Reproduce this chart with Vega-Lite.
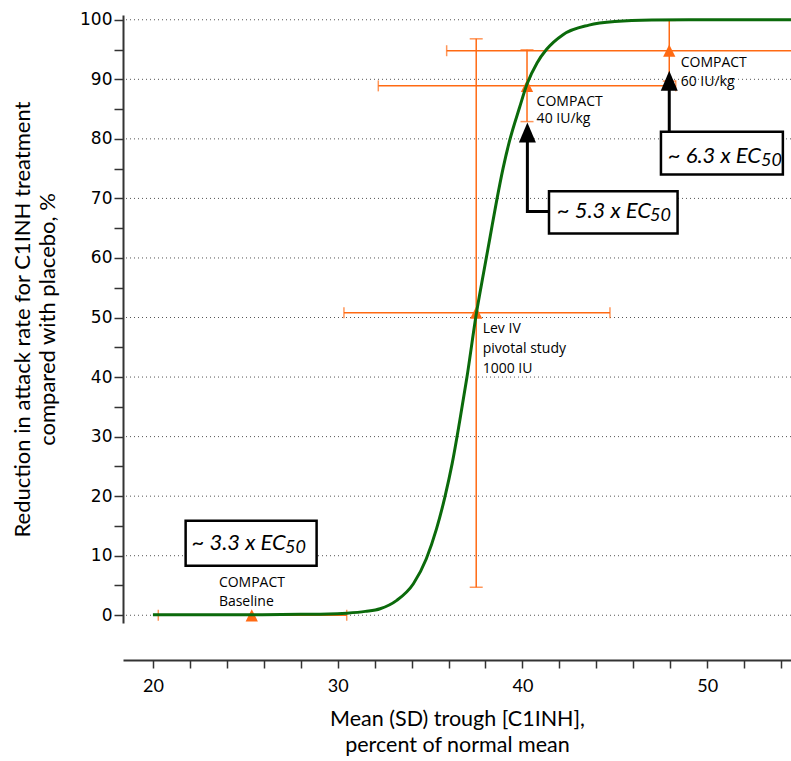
{
  "$schema": "https://vega.github.io/schema/vega-lite/v6.json",
  "width": 668,
  "height": 608,
  "autosize": {"type": "none"},
  "padding": {"left": 123, "top": 15, "right": 0, "bottom": 138},
  "background": "white",
  "config": {"view": {"stroke": null}},
  "datasets": {
    "grid": [{"g": 0}, {"g": 10}, {"g": 20}, {"g": 30}, {"g": 40}, {"g": 50}, {"g": 60}, {"g": 70}, {"g": 80}, {"g": 90}, {"g": 100}],
    "pts": [
      {"study": "COMPACT Baseline", "x": 25.35, "y": 0, "xlo": 20.29, "xhi": 30.49},
      {"study": "Lev IV", "x": 37.5, "y": 50.8, "xlo": 30.34, "xhi": 44.74, "ylo": 4.7, "yhi": 96.8},
      {"study": "COMPACT 40", "x": 40.25, "y": 88.9, "xlo": 32.2, "xhi": 48.3, "ylo": 82.9, "yhi": 94.95},
      {"study": "COMPACT 60", "x": 47.95, "y": 94.8, "xlo": 35.9, "xhi": 60.0, "ylo": 89.7, "yhi": 99.9}
    ],
    "curve": [
      {"x": 20.0, "y": 0.1}, {"x": 25.0, "y": 0.1}, {"x": 28.0, "y": 0.15}, {"x": 29.5, "y": 0.2},
      {"x": 30.5, "y": 0.35}, {"x": 31.5, "y": 0.65}, {"x": 32.3, "y": 1.1}, {"x": 33.2, "y": 2.5},
      {"x": 34.1, "y": 5.3}, {"x": 34.8, "y": 9.5}, {"x": 35.35, "y": 14.5}, {"x": 35.8, "y": 19.8},
      {"x": 36.2, "y": 25.5}, {"x": 36.6, "y": 32.5}, {"x": 37.0, "y": 40.0}, {"x": 37.5, "y": 50.5},
      {"x": 37.9, "y": 57.5}, {"x": 38.25, "y": 63.5}, {"x": 38.6, "y": 69.5}, {"x": 38.95, "y": 75.0},
      {"x": 39.3, "y": 79.6}, {"x": 39.85, "y": 85.3}, {"x": 40.25, "y": 89.2}, {"x": 40.8, "y": 92.8},
      {"x": 41.3, "y": 95.0}, {"x": 42.2, "y": 97.5}, {"x": 43.6, "y": 99.1}, {"x": 45.0, "y": 99.7},
      {"x": 47.0, "y": 99.95}, {"x": 50.0, "y": 100}, {"x": 54.6, "y": 100}
    ],
    "arrows": [
      {"a": 1, "o": 1, "x": 40.27, "y": 79.5}, {"a": 1, "o": 2, "x": 40.27, "y": 67.8}, {"a": 1, "o": 3, "x": 41.5, "y": 67.8},
      {"a": 2, "o": 1, "x": 47.95, "y": 88.2}, {"a": 2, "o": 2, "x": 47.95, "y": 81.2}
    ],
    "heads": [{"x": 40.27, "y": 81.06}, {"x": 47.95, "y": 89.75}],
    "boxes": [
      {"t": "~ 5.3 x EC", "s": "50", "x1": 41.44, "x2": 48.4, "y1": 71.2, "y2": 64.1, "tx": 41.86, "ty": 66.7, "sx": 46.91, "sy": 66.2},
      {"t": "~ 6.3 x EC", "s": "50", "x1": 47.5, "x2": 54.1, "y1": 81.2, "y2": 74.0, "tx": 47.87, "ty": 75.9, "sx": 52.92, "sy": 75.4},
      {"t": "~ 3.3 x EC", "s": "50", "x1": 21.77, "x2": 28.86, "y1": 15.85, "y2": 8.3, "tx": 22.09, "ty": 10.92, "sx": 27.15, "sy": 10.4}
    ],
    "labels": [
      {"x": 23.57, "y": 5.43, "t": "COMPACT"}, {"x": 23.57, "y": 2.24, "t": "Baseline"},
      {"x": 37.85, "y": 48.07, "t": "Lev IV"}, {"x": 37.85, "y": 44.71, "t": "pivotal study"}, {"x": 37.85, "y": 41.34, "t": "1000 IU"},
      {"x": 40.77, "y": 86.2, "t": "COMPACT"}, {"x": 40.77, "y": 83.3, "t": "40 IU/kg"},
      {"x": 48.57, "y": 92.7, "t": "COMPACT"}, {"x": 48.57, "y": 89.6, "t": "60 IU/kg"}
    ]
  },
  "encoding": {
    "x": {"type": "quantitative", "scale": {"domain": [18.38, 54.54], "nice": false, "zero": false},
      "axis": {
        "orient": "bottom", "offset": 37, "values": [20, 22, 24, 26, 28, 30, 32, 34, 36, 38, 40, 42, 44, 46, 48, 50, 52, 54],
        "labelExpr": "datum.value % 10 === 0 ? datum.label : ''", "labelOverlap": false, "grid": false,
        "domainColor": "#333333", "domainWidth": 2, "tickColor": "#333333", "tickWidth": 1.5, "tickSize": 8,
        "labelFont": "Lato", "labelFontSize": 18, "labelColor": "black", "labelPadding": 9,
        "title": ["Mean (SD) trough [C1INH],", "percent of normal mean"],
        "titleFont": "Lato", "titleFontSize": 21.5, "titleFontWeight": "normal", "titleColor": "black",
        "titlePadding": 13, "titleLineHeight": 26
      }
    },
    "y": {"type": "quantitative", "scale": {"domain": [-1.3, 100.8], "nice": false, "zero": false},
      "axis": {
        "orient": "left", "values": [0, 5, 10, 15, 20, 25, 30, 35, 40, 45, 50, 55, 60, 65, 70, 75, 80, 85, 90, 95, 100],
        "labelExpr": "datum.value % 10 === 0 ? datum.label : ''", "labelOverlap": false, "grid": false,
        "domainColor": "#333333", "domainWidth": 2, "tickColor": "#333333", "tickWidth": 1.5, "tickSize": 9,
        "labelFont": "DejaVu Sans", "labelFontSize": 17, "labelColor": "black", "labelPadding": 2,
        "title": ["Reduction in attack rate for C1INH treatment", "compared with placebo, %"],
        "titleFont": "Lato", "titleFontSize": 22, "titleFontWeight": "normal", "titleColor": "black",
        "titlePadding": 20, "titleLineHeight": 25
      }
    }
  },
  "layer": [
    {
      "data": {"name": "grid"},
      "mark": {"type": "rule", "color": "#555555", "strokeWidth": 1, "strokeDash": [1, 3]},
      "encoding": {"y": {"field": "g"}}
    },
    {
      "data": {"name": "pts"},
      "mark": {"type": "rule", "color": "#FF6A13", "strokeWidth": 1.5},
      "encoding": {"x": {"field": "xlo"}, "x2": {"field": "xhi"}, "y": {"field": "y"}}
    },
    {
      "data": {"name": "pts"},
      "mark": {"type": "rule", "color": "#FF6A13", "strokeWidth": 1.5},
      "encoding": {"x": {"field": "x"}, "y": {"field": "ylo"}, "y2": {"field": "yhi"}}
    },
    {
      "data": {"name": "pts"},
      "mark": {"type": "tick", "orient": "vertical", "color": "#FF6A13", "size": 11, "thickness": 1.5},
      "encoding": {"x": {"field": "xlo"}, "y": {"field": "y"}}
    },
    {
      "data": {"name": "pts"},
      "mark": {"type": "tick", "orient": "vertical", "color": "#FF6A13", "size": 11, "thickness": 1.5},
      "encoding": {"x": {"field": "xhi"}, "y": {"field": "y"}}
    },
    {
      "data": {"name": "pts"},
      "mark": {"type": "tick", "orient": "horizontal", "color": "#FF6A13", "size": 13, "thickness": 1.5},
      "encoding": {"x": {"field": "x"}, "y": {"field": "ylo"}}
    },
    {
      "data": {"name": "pts"},
      "mark": {"type": "tick", "orient": "horizontal", "color": "#FF6A13", "size": 13, "thickness": 1.5},
      "encoding": {"x": {"field": "x"}, "y": {"field": "yhi"}}
    },
    {
      "data": {"name": "pts"},
      "mark": {"type": "point", "shape": "M0,-1L-1,1L1,1Z", "size": 150, "filled": true, "color": "#FF6A13", "opacity": 1},
      "encoding": {"x": {"field": "x"}, "y": {"field": "y"}}
    },
    {
      "data": {"name": "curve"},
      "mark": {"type": "line", "color": "#0B6A0B", "strokeWidth": 3, "interpolate": "monotone"},
      "encoding": {"x": {"field": "x"}, "y": {"field": "y"}}
    },
    {
      "data": {"name": "arrows"},
      "mark": {"type": "line", "color": "black", "strokeWidth": 3},
      "encoding": {"x": {"field": "x"}, "y": {"field": "y"}, "detail": {"field": "a"}, "order": {"field": "o"}}
    },
    {
      "data": {"name": "heads"},
      "mark": {"type": "point", "shape": "M0,-1L-0.85,1L0.85,1Z", "size": 400, "filled": true, "color": "black", "opacity": 1},
      "encoding": {"x": {"field": "x"}, "y": {"field": "y"}}
    },
    {
      "data": {"name": "boxes"},
      "mark": {"type": "rect", "fill": "white", "stroke": "black", "strokeWidth": 2.5},
      "encoding": {"x": {"field": "x1"}, "x2": {"field": "x2"}, "y": {"field": "y1"}, "y2": {"field": "y2"}}
    },
    {
      "data": {"name": "boxes"},
      "mark": {"type": "text", "font": "Lato", "fontStyle": "italic", "fontSize": 22, "align": "left", "baseline": "alphabetic", "color": "black"},
      "encoding": {"x": {"field": "tx"}, "y": {"field": "ty"}, "text": {"field": "t"}}
    },
    {
      "data": {"name": "boxes"},
      "mark": {"type": "text", "font": "Lato", "fontStyle": "italic", "fontSize": 18, "align": "left", "baseline": "alphabetic", "color": "black"},
      "encoding": {"x": {"field": "sx"}, "y": {"field": "sy"}, "text": {"field": "s"}}
    },
    {
      "data": {"name": "labels"},
      "mark": {"type": "text", "font": "Open Sans", "fontSize": 14, "align": "left", "baseline": "middle", "color": "black"},
      "encoding": {"x": {"field": "x"}, "y": {"field": "y"}, "text": {"field": "t"}}
    }
  ]
}
